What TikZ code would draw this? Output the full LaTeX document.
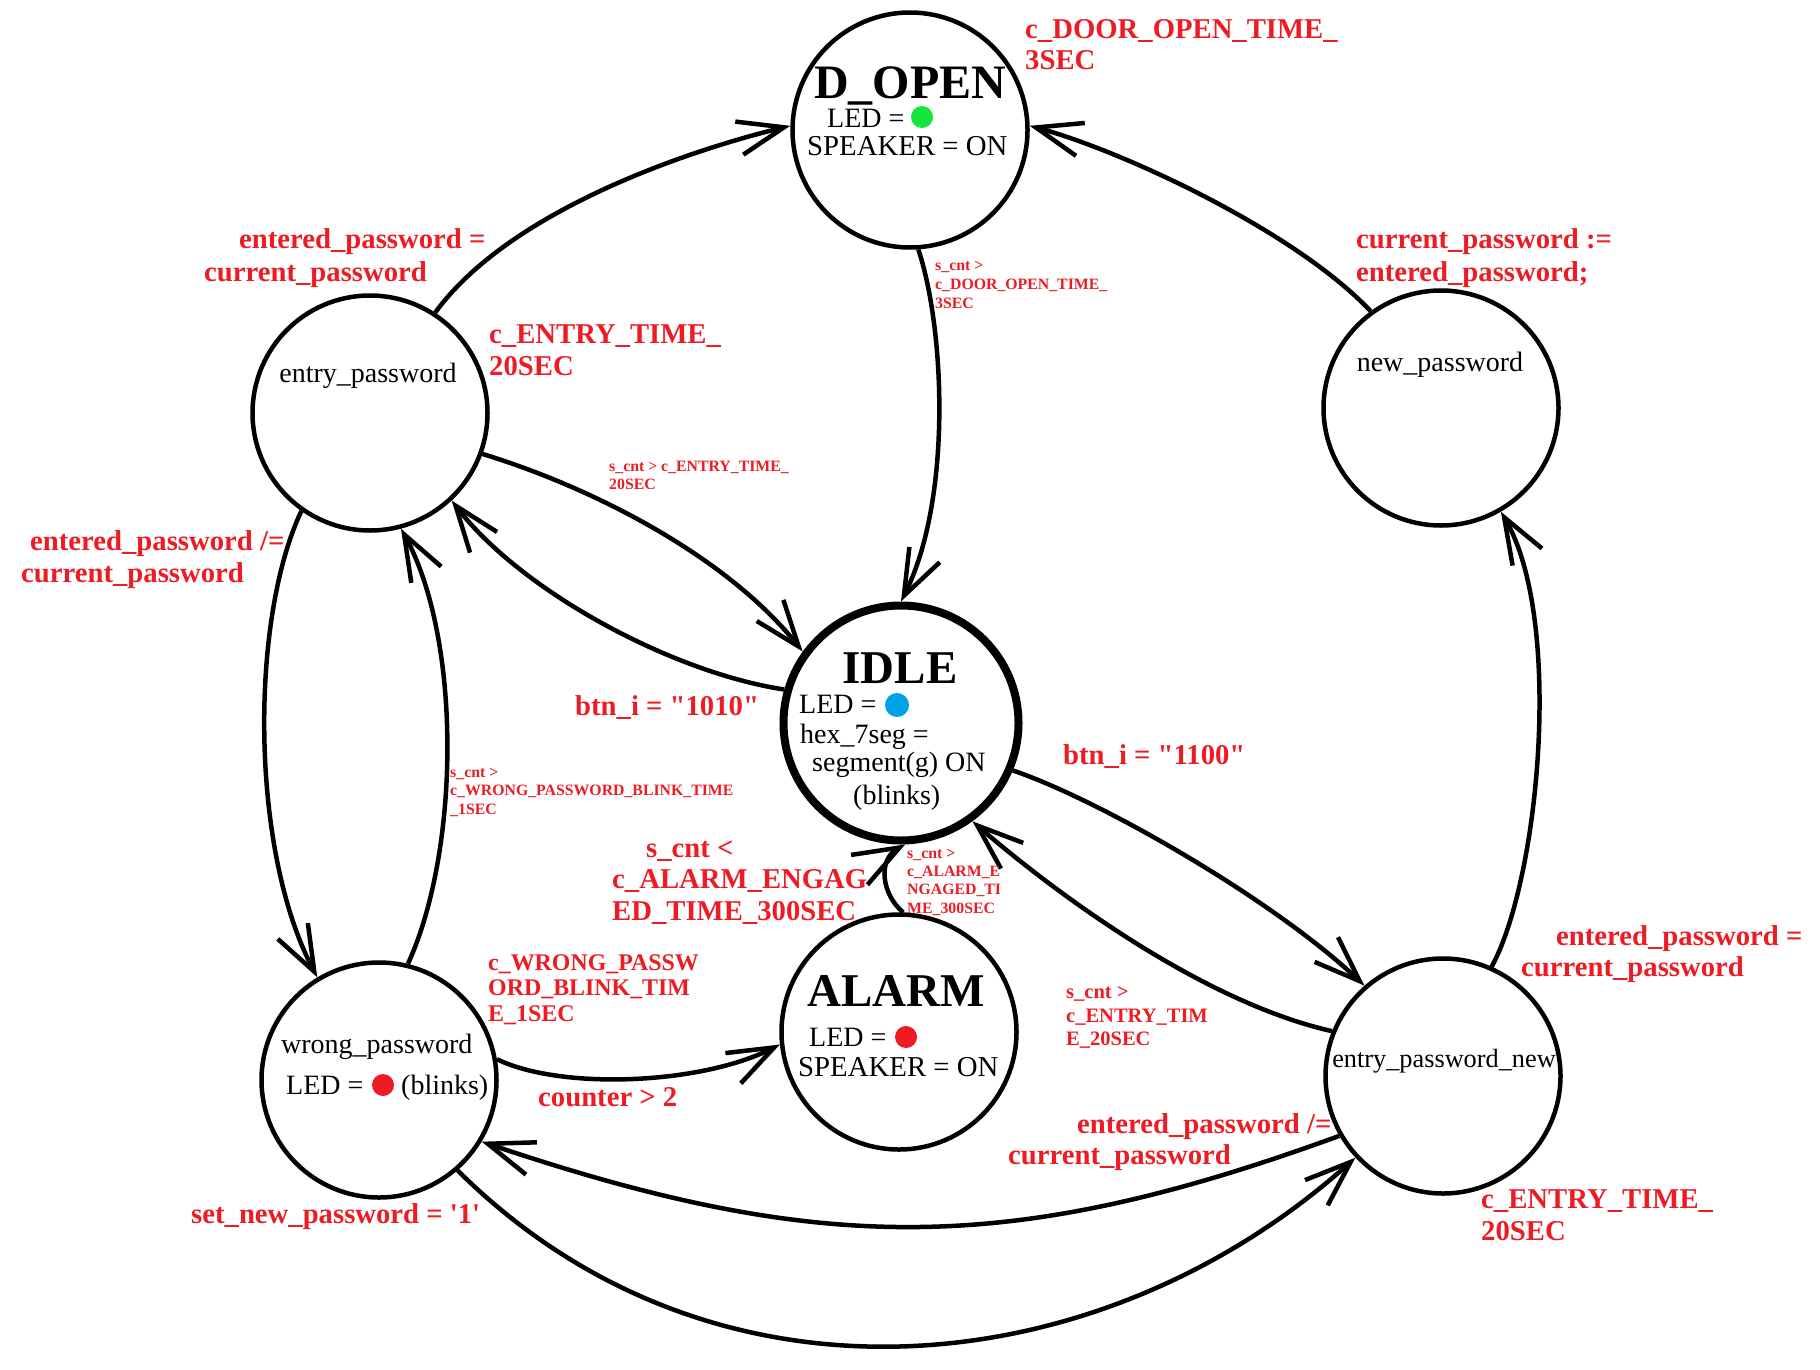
\documentclass[tikz,border=0pt]{standalone}
\usepackage{fontspec}
\setmainfont{Liberation Serif}[Ligatures=TeXOff]
\usetikzlibrary{arrows.meta}
\definecolor{lred}{RGB}{237,28,36}
\definecolor{lgreen}{RGB}{20,230,60}
\definecolor{lblue}{RGB}{0,162,232}
\newcommand\fsz[2]{\fontsize{#1}{#2}\selectfont}
\begin{document}
\begin{tikzpicture}[x=1pt,y=-1pt,
 st/.style={circle,draw,line width=4.5pt,minimum size=235pt,inner sep=0pt},
 idlest/.style={st,line width=8pt},
 ntx/.style={inner sep=0pt,anchor=base west,font=\fsz{28}{32}},
 ntxw/.style={ntx,font=\fsz{28.8}{32}},
 ttl/.style={inner sep=0pt,anchor=base,font=\bfseries\fsz{47}{50}},
 dotn/.style={circle,inner sep=0pt,minimum size=22pt},
 lbl/.style={inner sep=0pt,anchor=base west,text=lred,font=\bfseries\fsz{28.7}{32}},
 lblm/.style={lbl,font=\bfseries\fsz{23.9}{25.5}},
 lbls/.style={lbl,font=\bfseries\fsz{20.5}{23.5}},
 lblt/.style={lbl,font=\bfseries\fsz{15.8}{18.7}},
 tr/.style={line width=4.5pt,-{Straight Barb[length=46pt,width=34pt]}}
]
\fill[white] (0,0) rectangle (1820,1370);
\useasboundingbox (0,0) rectangle (1820,1370);

% D_OPEN
\node[st] (dopen) at (910,130) {};
\node[ttl,font=\bfseries\fsz{48}{50}] (dopent) at (910,99) {D\_OPEN};
\node[ntx] (dopenled) at (827,128) {LED =};
\node[dotn,fill=lgreen] (dopendot) at (922,117) {};
\node[ntxw] (dopensp) at (807,155) {SPEAKER = ON};

% entry_password
\node[st] (ep) at (370,413) {};
\node[ntx,anchor=base] (ept) at (368,382) {entry\_password};

% new_password
\node[st] (newp) at (1441,408) {};
\node[ntx,anchor=base] (newpt) at (1440,371) {new\_password};

% IDLE
\node[idlest] (idle) at (901,723) {};
\node[ttl] (idlet) at (900,683) {IDLE};
\node[ntx] (idleled) at (799,713) {LED =};
\node[dotn,fill=lblue,minimum size=24pt] (idledot) at (897,705) {};
\node[ntx] (idlehex) at (800,743) {hex\_7seg =};
\node[ntx] (idleseg) at (812,771) {segment(g) ON};
\node[ntx] (idlebl) at (853,804) {(blinks)};

% ALARM
\node[st] (alarm) at (899,1032) {};
\node[ttl] (alarmt) at (896,1006) {ALARM};
\node[ntx] (alarmled) at (809,1046) {LED =};
\node[dotn,fill=lred] (alarmdot) at (906,1037) {};
\node[ntxw] (alarmsp) at (798,1076) {SPEAKER = ON};

% wrong_password
\node[st] (wp) at (379,1080) {};
\node[ntx] (wpt) at (281,1053) {wrong\_password};
\node[ntx] (wpled) at (286,1094) {LED =};
\node[dotn,fill=lred] (wpdot) at (383,1085) {};
\node[ntx] (wpbl) at (401,1094) {(blinks)};

% entry_password_new
\node[st] (epn) at (1443,1076) {};
\node[ntx,anchor=base,font=\fsz{26.3}{30}] (epnt) at (1444,1067) {entry\_password\_new};

% transitions
\draw[tr] (ep.57) .. controls (510,210) and (690,150) .. (dopen.178);
\draw[tr] (newp.126) .. controls (1294,230) and (1120,150) .. (dopen.2);
\draw[tr] (dopen.-86) .. controls (945,330) and (952,500) .. (idle.90);
\draw[tr] (ep.-20) .. controls (600,490) and (730,560) .. (idle.144);
\draw[tr] (idle.164) .. controls (670,672) and (520,590) .. (ep.-47);
\draw[tr] (ep.235) .. controls (250,620) and (250,850) .. (wp.121);
\draw[tr] (wp.76) .. controls (460,850) and (462,640) .. (ep.-75);
\draw[tr] (wp.10) .. controls (560,1090) and (700,1085) .. (alarm.186);
\draw[tr] (epn.210) .. controls (1010,1256) and (821,1256) .. (wp.-31);
\draw[tr] (wp.-49) .. controls (716,1427) and (1102,1385) .. (epn.223);
\draw[tr] (idle.-23) .. controls (1100,800) and (1274,900) .. (epn.131);
\draw[tr] (epn.158) .. controls (1194,1000) and (1040,880) .. (idle.-54);
\draw[tr] (alarm.88) .. controls (882,895) and (877,860) .. (idle.-88);
\draw[tr] (epn.66) .. controls (1539,880) and (1564,620) .. (newp.-60);

% large labels
\node[lbl] (l1a) at (1025,39) {c\_DOOR\_OPEN\_TIME\_};
\node[lbl] (l1b) at (1025,70) {3SEC};
\node[lbl] (l2a) at (239,248) {entered\_password =};
\node[lbl] (l2b) at (204,281) {current\_password};
\node[lbl] (l3a) at (489,343) {c\_ENTRY\_TIME\_};
\node[lbl] (l3b) at (489,375) {20SEC};
\node[lbl] (l4a) at (1356,248) {current\_password :=};
\node[lbl] (l4b) at (1356,281) {entered\_password;};
\node[lbl] (l5a) at (30,550) {entered\_password /=};
\node[lbl] (l5b) at (21,582) {current\_password};
\node[lbl] (l6) at (575,715) {btn\_i = "1010"};
\node[lbl] (l7) at (1063,764) {btn\_i = "1100"};
\node[lbl] (l8a) at (646,857) {s\_cnt <};
\node[lbl] (l8b) at (612,888) {c\_ALARM\_ENGAG};
\node[lbl] (l8c) at (612,920) {ED\_TIME\_300SEC};
\node[lbl] (l9a) at (1556,945) {entered\_password =};
\node[lbl] (l9b) at (1521,976) {current\_password};
\node[lbl] (l10) at (538,1106) {counter > 2};
\node[lbl] (l11a) at (1077,1133) {entered\_password /=};
\node[lbl] (l11b) at (1008,1164) {current\_password};
\node[lbl] (l12) at (191,1223) {set\_new\_password = '1'};
\node[lbl] (l13a) at (1481,1208) {c\_ENTRY\_TIME\_};
\node[lbl] (l13b) at (1481,1240) {20SEC};

% medium labels
\node[lblm] (l14a) at (488,970) {c\_WRONG\_PASSW};
\node[lblm] (l14b) at (488,995) {ORD\_BLINK\_TIM};
\node[lblm] (l14c) at (488,1021) {E\_1SEC};
\node[lbls] (l15a) at (1066,998) {s\_cnt >};
\node[lbls] (l15b) at (1066,1022) {c\_ENTRY\_TIM};
\node[lbls] (l15c) at (1066,1045) {E\_20SEC};

% small labels
\node[lblt] (l16a) at (907,858) {s\_cnt >};
\node[lblt] (l16b) at (907,876) {c\_ALARM\_E};
\node[lblt] (l16c) at (907,894) {NGAGED\_TI};
\node[lblt] (l16d) at (907,913) {ME\_300SEC};
\node[lblt] (l17a) at (935,270) {s\_cnt >};
\node[lblt] (l17b) at (935,289) {c\_DOOR\_OPEN\_TIME\_};
\node[lblt] (l17c) at (935,308) {3SEC};
\node[lblt] (l18a) at (609,471) {s\_cnt > c\_ENTRY\_TIME\_};
\node[lblt] (l18b) at (609,489) {20SEC};
\node[lblt] (l19a) at (450,777) {s\_cnt >};
\node[lblt] (l19b) at (450,795) {c\_WRONG\_PASSWORD\_BLINK\_TIME};
\node[lblt] (l19c) at (450,814) {\_1SEC};
\end{tikzpicture}
\end{document}
